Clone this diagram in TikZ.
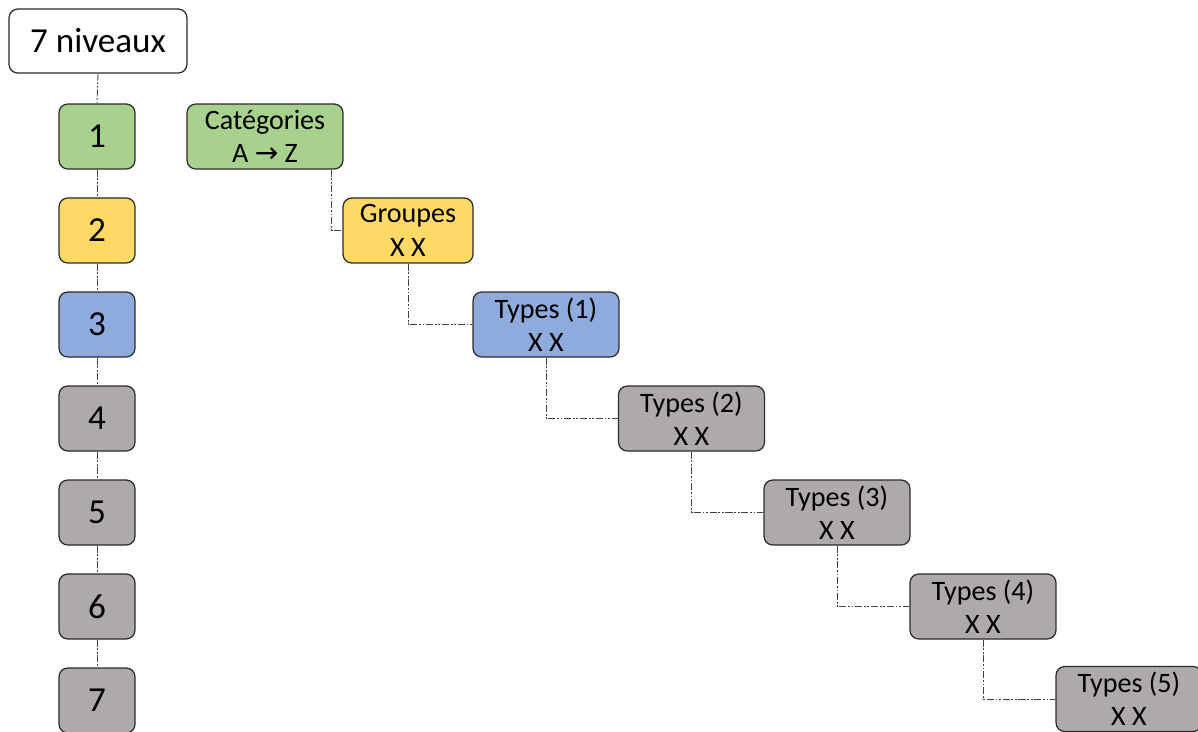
\documentclass[tikz,border=0pt]{standalone}
\usepackage{fontspec}
\setmainfont{Carlito}
\newfontfamily\symbfont{DejaVu Sans}
\usetikzlibrary{positioning}
\definecolor{vert}{HTML}{A9D18E}
\definecolor{jaune}{HTML}{FFD966}
\definecolor{bleu}{HTML}{8FAADC}
\definecolor{gris}{HTML}{AEAAAA}
\definecolor{bordure}{HTML}{2B2B2B}
\definecolor{trait}{HTML}{404040}
\tikzset{boite/.style = {draw = bordure, line width = 0.7pt,
                         rounded corners = 5pt, inner sep = 1pt,
                         minimum height = 1.3cm, align = center,
                         font = \fontsize{16}{19}\selectfont},
         niveau/.style = {boite, minimum width = 1.52cm,
                          font = \fontsize{20}{24}\selectfont},
         categ/.style = {boite, minimum width = 2.92cm},
         lien/.style = {draw = trait, line width = 0.5pt,
                        dash pattern = on 4pt off 1pt on 1pt off 1pt on 1pt off 1pt}}

\begin{document}
\begin{tikzpicture}[x = 0.02cm, y = -0.02cm]
        \useasboundingbox (0,0) rectangle (1198,731);

        \node[boite, fill = white, minimum width = 3.56cm, minimum height = 1.28cm,
              font = \fontsize{20}{24}\selectfont] (niv) at (98,41) {7 niveaux};

        \foreach \i/\c in {1/vert, 2/jaune, 3/bleu, 4/gris, 5/gris, 6/gris, 7/gris}
            \node[niveau, fill = \c] (n\i) at (97,{136.5 + 94*(\i - 1)}) {\i};

        \node[categ, fill = vert, minimum width = 3.12cm] (cat) at (265,136.5) {Catégories\\A {\symbfont →} Z};
        \node[categ, fill = jaune, minimum width = 2.6cm] (grp) at (408,230.5) {Groupes\\X X};
        \node[categ, fill = bleu]  (t1) at (546,324.5)   {Types (1)\\X X};
        \node[categ, fill = gris]  (t2) at (691.5,418.5) {Types (2)\\X X};
        \node[categ, fill = gris]  (t3) at (837,512.5)   {Types (3)\\X X};
        \node[categ, fill = gris]  (t4) at (983,606.5)   {Types (4)\\X X};
        \node[categ, fill = gris]  (t5) at (1129,699)    {Types (5)\\X X};

        \draw[lien] (niv.south) -- (n1.north);
        \foreach \a/\b in {1/2, 2/3, 3/4, 4/5, 5/6, 6/7}
            \draw[lien] (n\a.south) -- (n\b.north);

        \draw[lien] ([xshift = -0.24cm]cat.south east) |- (grp.west);
        \draw[lien] (grp.south) |- (t1.west);
        \draw[lien] (t1.south) |- (t2.west);
        \draw[lien] (t2.south) |- (t3.west);
        \draw[lien] (t3.south) |- (t4.west);
        \draw[lien] (t4.south) |- (t5.west);
    \end{tikzpicture}
\end{document}
